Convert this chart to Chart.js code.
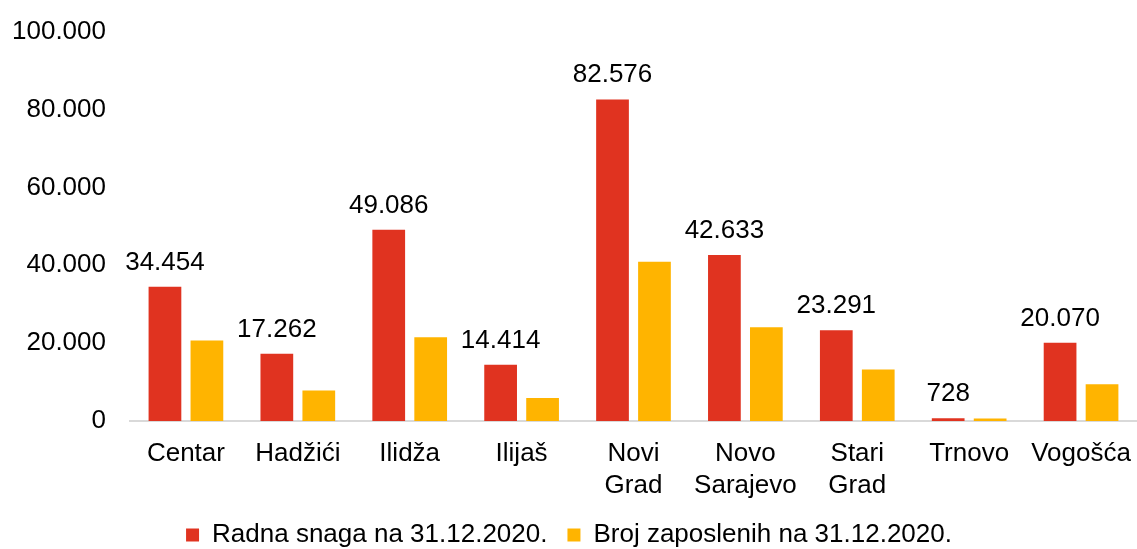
<!DOCTYPE html>
<html>
<head>
<meta charset="utf-8">
<script src="https://cdn.jsdelivr.net/npm/chart.js@4.4.1/dist/chart.umd.min.js"></script>
<style>
  html, body { margin: 0; padding: 0; background: #fff; }
</style>
</head>
<body>
<canvas id="radnaChart" width="1137" height="549"></canvas>
<script>
// opštine Kantona Sarajevo
const categories = ["Centar", "Hadžići", "Ilidža", "Ilijaš", ["Novi", "Grad"], ["Novo", "Sarajevo"], ["Stari", "Grad"], "Trnovo", "Vogošća"];
const radnaSnaga = [34454, 17262, 49086, 14414, 82576, 42633, 23291, 728, 20070];
const brojZaposlenih = [20700, 7850, 21500, 5900, 40900, 24100, 13200, 650, 9450];
const yTicks = [0, 20000, 40000, 60000, 80000, 100000];
const seriesNames = ["Radna snaga na 31.12.2020.", "Broj zaposlenih na 31.12.2020."];

const FONT = "'Liberation Sans', Arial, sans-serif";

function fmt(v) {
    return String(v).replace(/\B(?=(\d{3})+(?!\d))/g, ".");
}

// vrijednosti iznad crvenih stubova
const valueLabels = {
    id: "valueLabels",
    afterDatasetsDraw(chart) {
        const c = chart.ctx;
        const meta = chart.getDatasetMeta(0);
        c.save();
        c.font = "26px " + FONT;
        c.fillStyle = "#000";
        c.textAlign = "center";
        c.textBaseline = "alphabetic";
        meta.data.forEach((bar, i) => {
            c.fillText(fmt(radnaSnaga[i]), bar.x, bar.y - 17);
        });
        c.restore();
    }
};

var ctx = document.getElementById("radnaChart").getContext("2d");

var myChart = new Chart(ctx, {
    type: "bar",
    data: {
        labels: categories,
        datasets: [
            {
                label: seriesNames[0],
                data: radnaSnaga,
                backgroundColor: "#e03320",
                categoryPercentage: 0.75,
                barPercentage: 0.78,
            },
            {
                label: seriesNames[1],
                data: brojZaposlenih,
                backgroundColor: "#ffb400",
                categoryPercentage: 0.75,
                barPercentage: 0.78,
            },
        ],
    },
    options: {
        responsive: false,
        animation: false,
        layout: {
            padding: { top: 8, right: -5, left: -4, bottom: -9 }
        },
        scales: {
            y: {
                min: 0,
                max: 100000,
                afterBuildTicks: (axis) => {
                    axis.ticks = yTicks.map(v => ({ value: v }));
                },
                grid: { display: false },
                border: { display: false },
                ticks: {
                    color: "#000",
                    padding: 16,
                    font: { family: FONT, size: 26 },
                    callback: (v) => fmt(v)
                }
            },
            x: {
                grid: { display: false },
                border: { display: true, color: "#d9d9d9", width: 2 },
                afterFit: (scale) => {
                    scale.height = 81;
                    scale.paddingLeft = 0;
                    scale.paddingRight = 0;
                },
                ticks: {
                    color: "#000",
                    padding: 9,
                    maxRotation: 0,
                    autoSkip: false,
                    font: { family: FONT, size: 26, lineHeight: 1.23 }
                }
            }
        },
        plugins: {
            legend: {
                position: "bottom",
                labels: {
                    color: "#000",
                    boxWidth: 13,
                    boxHeight: 13,
                    padding: 20,
                    font: { family: FONT, size: 26 }
                }
            },
            tooltip: { enabled: false }
        }
    },
    plugins: [valueLabels]
});
</script>
</body>
</html>
